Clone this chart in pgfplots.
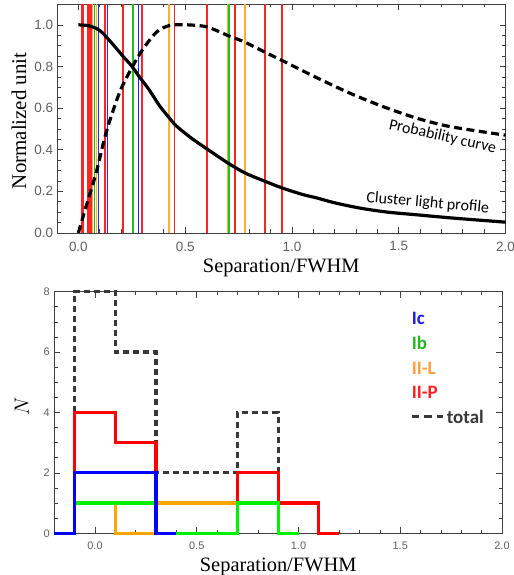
\documentclass[border=0pt]{standalone}
\usepackage{fontspec}
\setmainfont{Liberation Serif}
\newfontfamily\tickfont{Liberation Sans}
\newfontfamily\calfont{Carlito}
\usepackage{pgfplots}
\pgfplotsset{compat=1.18}
\definecolor{lred}{HTML}{FF2424}
\definecolor{lorange}{HTML}{FFB030}
\definecolor{lgreen}{HTML}{22C022}
\definecolor{lblue}{HTML}{2424FF}
\definecolor{hred}{HTML}{FF0000}
\definecolor{horange}{HTML}{FFA500}
\definecolor{hgreen}{HTML}{00EE00}
\definecolor{hblue}{HTML}{0000FF}
\definecolor{axgray}{HTML}{404040}
\definecolor{tickgray}{HTML}{606060}
\definecolor{totgray}{HTML}{383838}
\definecolor{legblue}{HTML}{1A1AE6}
\definecolor{leggreen}{HTML}{22B822}
\definecolor{legorange}{HTML}{FFA040}
\definecolor{legred}{HTML}{FF2020}
\pgfplotsset{
  common/.style={
    scale only axis,
    axis line style={draw=axgray, line width=0.8bp},
    tick style={draw=axgray, line width=0.6bp},
    major tick length=6bp,
    minor tick length=3.5bp,
    tick align=inside,
    /pgf/number format/assume math mode=true,
  }
}
\begin{document}
\begin{tikzpicture}
\useasboundingbox (0,0) rectangle (514bp,575bp);
% ---------------- top panel ----------------
\begin{axis}[common,
  at={(57bp,342bp)}, anchor=south west,
  width=448.5bp, height=229bp,
  xmin=-0.1, xmax=2.0, ymin=0, ymax=1.1,
  xtick={0,0.5,1,1.5,2}, minor x tick num=4,
  ytick={0,0.2,0.4,0.6,0.8,1.0}, minor y tick num=3,
  xticklabel style={font=\tickfont\fontsize{13.5}{13.5}\selectfont, text=tickgray, inner sep=0pt, yshift=-8.5bp,
    /pgf/number format/.cd, fixed, fixed zerofill, precision=1},
  yticklabel style={font=\tickfont\fontsize{13.5}{13.5}\selectfont, text=tickgray, inner sep=0pt, xshift=-3.7bp,
    /pgf/number format/.cd, fixed, fixed zerofill, precision=1},
  xlabel={Separation/FWHM},
  xlabel style={font=\fontsize{20.5}{20.5}\selectfont, inner sep=0pt, anchor=north, at={(axis description cs:0.5,-0.1135)}},
  ylabel={Normalized unit},
  ylabel style={font=\fontsize{21}{21}\selectfont, inner sep=0pt, anchor=center, at={(axis description cs:-0.0847,0.49)}},
]
\addplot[lred, line width=1.7bp, ycomb, no marks] coordinates {
  (0.018,1.1) (0.021,1.1) (0.045,1.1) (0.052,1.1) (0.060,1.1) (0.125,1.1) (0.209,1.1)
  (0.297,1.1) (0.450,1.1) (0.601,1.1) (0.734,1.1) (0.875,1.1) (0.955,1.1)};
\addplot[lorange, line width=1.7bp, ycomb, no marks] coordinates {
  (0.066,1.1) (0.085,1.1) (0.424,1.1) (0.700,1.1) (0.781,1.1)};
\addplot[lgreen, line width=1.7bp, ycomb, no marks] coordinates {
  (0.075,1.1) (0.257,1.1) (0.706,1.1)};
\addplot[lblue, line width=1.7bp, ycomb, no marks] coordinates {
  (0.095,1.1) (0.137,1.1) (0.282,1.1)};
% cluster light profile
\addplot[black, line width=3.2bp, smooth, no marks] coordinates {
  (0,1.0) (0.05,0.995) (0.1,0.973) (0.15,0.92) (0.209,0.849) (0.248,0.804) (0.288,0.747)
  (0.33,0.69) (0.381,0.61) (0.42,0.56) (0.459,0.514) (0.53,0.455) (0.602,0.404) (0.699,0.337)
  (0.781,0.288) (0.875,0.248) (0.955,0.216) (1.05,0.185) (1.118,0.168) (1.2,0.145) (1.322,0.119)
  (1.45,0.100) (1.589,0.087) (1.75,0.072) (1.9,0.060) (2.0,0.052)};
% probability curve
\addplot[black, line width=3.2bp, dash pattern=on 8bp off 4.5bp, smooth, no marks] coordinates {
  (0,0) (0.036,0.127) (0.083,0.288) (0.13,0.482) (0.193,0.675) (0.256,0.804) (0.303,0.884)
  (0.366,0.965) (0.428,0.997) (0.507,1.0) (0.602,0.99) (0.699,0.949) (0.781,0.916) (0.875,0.868)
  (0.955,0.828) (1.118,0.745) (1.275,0.67) (1.432,0.605) (1.589,0.55) (1.746,0.51) (2.0,0.47)};
\node[font=\calfont\fontsize{16}{16}\selectfont, rotate=-12.5, inner sep=0pt] at (axis cs:1.705,0.462) {Probability curve};
\node[font=\calfont\fontsize{16}{16}\selectfont, rotate=-5, inner sep=0pt] at (axis cs:1.636,0.143) {Cluster light profile};
\end{axis}
% ---------------- bottom panel ----------------
\begin{axis}[common,
  at={(54.3bp,41.7bp)}, anchor=south west,
  width=447.7bp, height=241.6bp,
  xmin=-0.2, xmax=2.0, ymin=0, ymax=8,
  clip=false,
  xtick={0,0.5,1,1.5,2}, minor x tick num=4,
  ytick={0,2,4,6,8}, minor y tick num=3,
  xticklabel style={font=\tickfont\fontsize{11}{11}\selectfont, text=tickgray, inner sep=0pt, yshift=-8.4bp,
    /pgf/number format/.cd, fixed, fixed zerofill, precision=1},
  yticklabel style={font=\tickfont\fontsize{11}{11}\selectfont, text=tickgray, inner sep=0pt, xshift=-4.3bp},
  xlabel={Separation/FWHM},
  xlabel style={font=\fontsize{20.5}{20.5}\selectfont, inner sep=0pt, anchor=north, at={(axis description cs:0.5,-0.0993)}},
  ylabel={$N$},
  ylabel style={font=\fontsize{20}{20}\selectfont, inner sep=0pt, anchor=center, at={(axis description cs:-0.0728,0.524)}},
]
\addplot[totgray, line width=3.2bp, dash pattern=on 6bp off 4bp, no marks] coordinates {
  (-0.1,4) (-0.1,8) (0.1,8) (0.1,6) (0.3,6) (0.3,2) (0.7,2) (0.7,4) (0.9,4) (0.9,2)};
\addplot[hred, line width=3.2bp, no marks] coordinates {
  (-0.1,0) (-0.1,4) (0.1,4) (0.1,3) (0.3,3) (0.3,0) (0.7,0) (0.7,2) (0.9,2) (0.9,1) (1.1,1) (1.1,0) (1.2,0)};
\addplot[horange, line width=3.2bp, no marks] coordinates {
  (-0.1,0) (-0.1,1) (0.1,1) (0.1,0) (0.3,0) (0.3,1) (0.9,1) (0.9,0)};
\addplot[hgreen, line width=3.2bp, no marks] coordinates {
  (-0.1,0) (-0.1,1) (0.3,1) (0.3,0) (0.7,0) (0.7,1) (0.9,1) (0.9,0) (1.0,0)};
\addplot[hblue, line width=3.2bp, no marks] coordinates {
  (-0.2,0) (-0.1,0) (-0.1,2) (0.3,2) (0.3,0) (0.4,0)};
\node[font=\calfont\bfseries\fontsize{19}{19}\selectfont, text=legblue, anchor=west, inner sep=0pt] at (axis cs:1.556,7.12) {Ic};
\node[font=\calfont\bfseries\fontsize{19}{19}\selectfont, text=leggreen, anchor=west, inner sep=0pt] at (axis cs:1.556,6.29) {Ib};
\node[font=\calfont\bfseries\fontsize{19}{19}\selectfont, text=legorange, anchor=west, inner sep=0pt] at (axis cs:1.556,5.47) {II-L};
\node[font=\calfont\bfseries\fontsize{19}{19}\selectfont, text=legred, anchor=west, inner sep=0pt] at (axis cs:1.556,4.66) {II-P};
\draw[totgray, line width=3.2bp, dash pattern=on 7.5bp off 5bp] (axis cs:1.556,3.86) -- (axis cs:1.711,3.86);
\node[font=\calfont\bfseries\fontsize{19}{19}\selectfont, text=totgray, anchor=west, inner sep=0pt] at (axis cs:1.728,3.86) {total};
\end{axis}
\end{tikzpicture}
\end{document}
